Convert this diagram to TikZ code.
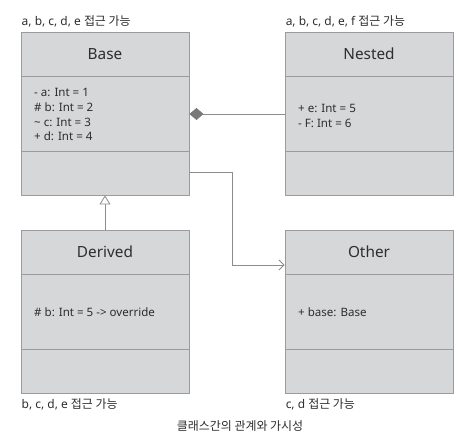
\documentclass[tikz,border=0pt]{standalone}
\usepackage{fontspec}
\setmainfont{Noto Sans}
\newfontfamily\kor{Noto Sans CJK KR}
\usepackage{tikz}
\usetikzlibrary{arrows.meta,positioning}
\definecolor{boxfill}{RGB}{214,215,217}
\definecolor{boxline}{RGB}{155,155,157}
\definecolor{ink}{RGB}{45,45,45}
\definecolor{wire}{RGB}{140,140,140}
\definecolor{diam}{RGB}{120,120,122}

\tikzset{
  classbox/.style={draw=boxline, fill=boxfill, line width=0.9bp, minimum width=168bp, minimum height=163bp, inner sep=0},
  divider/.style={draw=boxline, line width=0.9bp},
  classname/.style={text=ink, font=\fontsize{15.4}{17}\selectfont},
  attrs/.style={text=ink, font=\fontsize{11.6}{15}\selectfont, align=left, inner sep=0, anchor=west},
  note/.style={text=ink, font=\fontsize{12}{14}\selectfont, inner sep=0},
  inherit/.style={draw=wire, line width=0.8bp, -{Triangle[open,fill=white,length=9bp,width=11bp]}},
  compose/.style={draw=wire, line width=0.8bp, -{Diamond[fill=diam,color=diam,length=14bp,width=12bp]}},
  assoc/.style={draw=wire, line width=0.8bp, -{Straight Barb[length=5bp,width=10bp]}}
}

\begin{document}
\begin{tikzpicture}[x=1bp, y=-1bp]
  \useasboundingbox (0,0) rectangle (470,437);

  % classes
  \node[classbox] (base) at (105,113.5) {};
  \node[classbox] (nested) at (369,113.5) {};
  \node[classbox] (derived) at (105,311.5) {};
  \node[classbox] (other) at (369,311.5) {};

  \foreach \c in {base,nested,derived,other} {
    \draw[divider] ([yshift=-45bp]\c.north west) -- ([yshift=-45bp]\c.north east);
    \draw[divider] ([yshift=-120bp]\c.north west) -- ([yshift=-120bp]\c.north east);
  }

  \node[classname] (base-name) at ([yshift=-22.5bp]base.north) {Base};
  \node[classname] (nested-name) at ([yshift=-22.5bp]nested.north) {Nested};
  \node[classname] (derived-name) at ([yshift=-22.5bp]derived.north) {Derived};
  \node[classname] (other-name) at ([yshift=-22.5bp]other.north) {Other};

  \node[attrs] (base-attr) at (34,114.5) {- a: Int = 1\\\# b: Int = 2\\\textasciitilde{} c: Int = 3\\+ d: Int = 4};
  \node[attrs] (nested-attr) at (298,115.5) {+ e: Int = 5\\- F: Int = 6};
  \node[attrs] (derived-attr) at (34,312) {\# b: Int = 5 -> override};
  \node[attrs] (other-attr) at (298,312) {+ base: Base};

  % visibility notes
  \node[note, above right=4bp and 1bp of base.north west] (base-note) {a, b, c, d, e {\kor 접근 가능}};
  \node[note, above right=4bp and 1bp of nested.north west] (nested-note) {a, b, c, d, e, f {\kor 접근 가능}};
  \node[note, below right=5bp and 1bp of derived.south west] (derived-note) {b, c, d, e {\kor 접근 가능}};
  \node[note, below right=5bp and 1bp of other.south west] (other-note) {c, d {\kor 접근 가능}};
  \node[note] (caption) at (240,426) {\kor 클래스간의 관계와 가시성};

  % relations
  \coordinate (bend) at (232,265);
  \draw[inherit] (derived.north) -- (base.south);
  \draw[compose] (nested.west |- 0,114) -- (base.east |- 0,114);
  \draw[assoc] (base.east |- 0,172) -| (bend) -- (other.west |- bend);
\end{tikzpicture}
\end{document}
